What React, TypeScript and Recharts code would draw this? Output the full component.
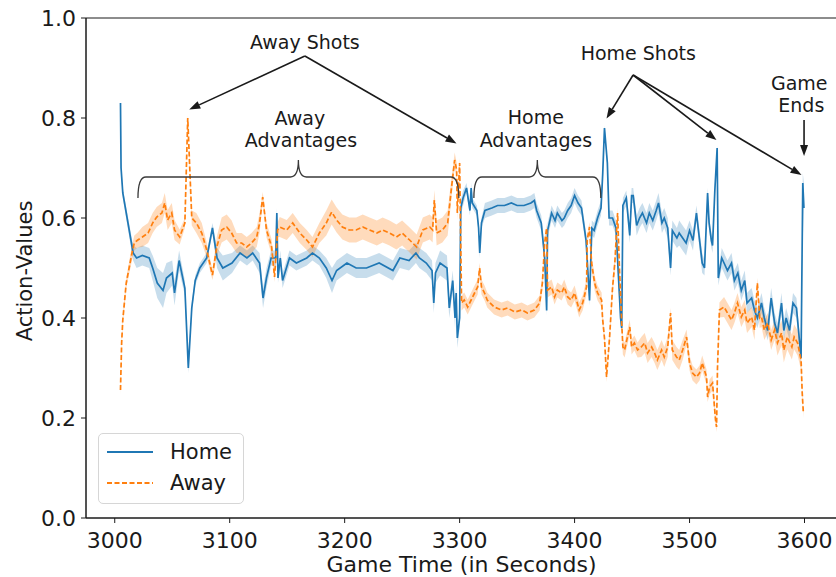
import React from 'react';
import {
  ComposedChart,
  Line,
  Area,
  XAxis,
  YAxis,
  ReferenceLine,
  ReferenceDot,
  ReferenceArea,
  Legend,
} from 'recharts';

const FONT = '"DejaVu Sans", Verdana, sans-serif';
const HOME_COLOR = '#1f77b4';
const AWAY_COLOR = '#ff7f0e';
const INK = '#1a1a1a';

const xDomain = [2975, 3630];
const yDomain = [0, 1];
const xTicks = [3000, 3100, 3200, 3300, 3400, 3500, 3600];
const yTicks = [0, 0.2, 0.4, 0.6, 0.8, 1.0];
const seriesNames = ['Home', 'Away'];

// [game time (s), action-value, half-width of the confidence band]
type Sample = [number, number, number];

const homeSeries: Sample[] = [
  [3005, 0.83, 0.0], [3005.5, 0.70, 0.01], [3007, 0.65, 0.01], [3016, 0.53, 0.015],
  [3019, 0.52, 0.02], [3024, 0.525, 0.02], [3030, 0.52, 0.02], [3033, 0.50, 0.025],
  [3037, 0.47, 0.03], [3042, 0.455, 0.035], [3045, 0.48, 0.03], [3050, 0.49, 0.025],
  [3052, 0.45, 0.025], [3056, 0.515, 0.02], [3061, 0.46, 0.015], [3064, 0.30, 0.01],
  [3067, 0.42, 0.01], [3070, 0.475, 0.01], [3074, 0.50, 0.01], [3080, 0.52, 0.01],
  [3085, 0.58, 0.01], [3089, 0.52, 0.02], [3094, 0.50, 0.025], [3102, 0.51, 0.02],
  [3109, 0.53, 0.015], [3115, 0.52, 0.015], [3120, 0.53, 0.015], [3126, 0.51, 0.02],
  [3129, 0.44, 0.02], [3132, 0.48, 0.02], [3136, 0.52, 0.015], [3140, 0.52, 0.015],
  [3141, 0.61, 0.01], [3142, 0.48, 0.01], [3144, 0.52, 0.015], [3146, 0.475, 0.015],
  [3152, 0.52, 0.015], [3158, 0.51, 0.015], [3167, 0.52, 0.015], [3172, 0.53, 0.015],
  [3178, 0.52, 0.015], [3184, 0.50, 0.02], [3189, 0.475, 0.025], [3193, 0.495, 0.02],
  [3202, 0.51, 0.02], [3210, 0.50, 0.02], [3219, 0.50, 0.02], [3230, 0.51, 0.02],
  [3242, 0.495, 0.02], [3248, 0.52, 0.02], [3256, 0.515, 0.02], [3262, 0.53, 0.02],
  [3265, 0.52, 0.02], [3271, 0.51, 0.02], [3276, 0.495, 0.02], [3277.5, 0.43, 0.02],
  [3279, 0.49, 0.02], [3283, 0.51, 0.025], [3289, 0.50, 0.025], [3291, 0.42, 0.02],
  [3294, 0.475, 0.02], [3296, 0.40, 0.02], [3297, 0.45, 0.02], [3298, 0.36, 0.02],
  [3300, 0.40, 0.02], [3301, 0.62, 0.015], [3303, 0.64, 0.015], [3306, 0.66, 0.01],
  [3309, 0.615, 0.01], [3310, 0.66, 0.01], [3311, 0.63, 0.01], [3315, 0.615, 0.01],
  [3316.5, 0.58, 0.01], [3317.5, 0.53, 0.01], [3319, 0.59, 0.01], [3322, 0.615, 0.015],
  [3328, 0.62, 0.015], [3333, 0.625, 0.015], [3339, 0.625, 0.015], [3345, 0.63, 0.015],
  [3350, 0.625, 0.015], [3356, 0.625, 0.015], [3362, 0.63, 0.015], [3365, 0.635, 0.015],
  [3367, 0.615, 0.015], [3371, 0.59, 0.015], [3374, 0.52, 0.015], [3375.7, 0.415, 0.01],
  [3376.5, 0.575, 0.015], [3380, 0.61, 0.015], [3383, 0.595, 0.015], [3385, 0.61, 0.015],
  [3389, 0.595, 0.015], [3391, 0.60, 0.015], [3394, 0.615, 0.015], [3397, 0.625, 0.015],
  [3400, 0.645, 0.015], [3403, 0.63, 0.015], [3406, 0.62, 0.015], [3410, 0.555, 0.015],
  [3413, 0.435, 0.01], [3415, 0.58, 0.015], [3417, 0.575, 0.015], [3420, 0.60, 0.015],
  [3423, 0.62, 0.015], [3424.5, 0.69, 0.01], [3426, 0.78, 0.005], [3428.5, 0.71, 0.01],
  [3430, 0.60, 0.015], [3433, 0.60, 0.015], [3436, 0.58, 0.015], [3438, 0.49, 0.015],
  [3440, 0.40, 0.015], [3441, 0.38, 0.01], [3442, 0.625, 0.015], [3445, 0.64, 0.015],
  [3448, 0.565, 0.015], [3449.6, 0.645, 0.015], [3451, 0.645, 0.015], [3454, 0.585, 0.02],
  [3456.5, 0.60, 0.02], [3459, 0.61, 0.02], [3462.6, 0.59, 0.02], [3465, 0.61, 0.02],
  [3468, 0.595, 0.02], [3471, 0.615, 0.02], [3473, 0.63, 0.02], [3476, 0.59, 0.02],
  [3478, 0.60, 0.02], [3481, 0.58, 0.02], [3483.5, 0.50, 0.015], [3485, 0.575, 0.02],
  [3489, 0.56, 0.02], [3491, 0.57, 0.025], [3494, 0.56, 0.025], [3497, 0.55, 0.025],
  [3500, 0.575, 0.02], [3503, 0.555, 0.02], [3506, 0.61, 0.015], [3509, 0.55, 0.02],
  [3511, 0.51, 0.02], [3513, 0.50, 0.015], [3515.7, 0.65, 0.01], [3517, 0.59, 0.015],
  [3519, 0.555, 0.015], [3520, 0.545, 0.015], [3522, 0.655, 0.01], [3524, 0.74, 0.005],
  [3525, 0.48, 0.015], [3528, 0.52, 0.02], [3530, 0.51, 0.02], [3533, 0.495, 0.02],
  [3536.5, 0.51, 0.02], [3539, 0.475, 0.02], [3542, 0.49, 0.02], [3545, 0.455, 0.02],
  [3548, 0.475, 0.02], [3550, 0.43, 0.02], [3554, 0.44, 0.02], [3556.5, 0.415, 0.02],
  [3559, 0.40, 0.02], [3562.6, 0.43, 0.02], [3565, 0.40, 0.02], [3568, 0.375, 0.02],
  [3571, 0.44, 0.02], [3574, 0.39, 0.02], [3576.5, 0.37, 0.02], [3580, 0.43, 0.02],
  [3582, 0.375, 0.02], [3584, 0.40, 0.02], [3587, 0.375, 0.02], [3590, 0.43, 0.02],
  [3593, 0.42, 0.02], [3597, 0.32, 0.015], [3598.5, 0.67, 0.02], [3599.5, 0.62, 0.05],
];

const awaySeries: Sample[] = [
  [3005, 0.256, 0.01], [3006, 0.35, 0.01], [3007, 0.396, 0.01], [3010, 0.47, 0.01],
  [3015, 0.53, 0.015], [3017, 0.55, 0.015], [3020, 0.556, 0.015], [3024, 0.562, 0.02],
  [3029, 0.57, 0.02], [3033, 0.59, 0.02], [3036.5, 0.602, 0.02], [3041, 0.61, 0.02],
  [3043.5, 0.63, 0.02], [3046, 0.596, 0.02], [3049.6, 0.61, 0.02], [3052, 0.576, 0.02],
  [3056.5, 0.562, 0.015], [3061, 0.59, 0.01], [3063.5, 0.80, 0.005], [3067, 0.60, 0.015],
  [3071, 0.59, 0.02], [3075.7, 0.57, 0.02], [3080, 0.536, 0.015], [3085, 0.486, 0.01],
  [3088.7, 0.542, 0.02], [3093, 0.576, 0.025], [3097.4, 0.582, 0.025], [3101.7, 0.57, 0.025],
  [3106, 0.55, 0.02], [3110.4, 0.55, 0.02], [3114.8, 0.542, 0.02], [3119, 0.55, 0.02],
  [3123.5, 0.562, 0.02], [3126, 0.59, 0.02], [3128.7, 0.642, 0.01], [3132, 0.576, 0.015],
  [3136.5, 0.542, 0.015], [3139, 0.482, 0.01], [3141.7, 0.576, 0.015], [3143.5, 0.582, 0.02],
  [3149.6, 0.576, 0.02], [3154.8, 0.59, 0.02], [3161, 0.57, 0.02], [3167, 0.556, 0.02],
  [3172, 0.542, 0.02], [3178, 0.57, 0.02], [3184, 0.59, 0.025], [3188.7, 0.612, 0.025],
  [3193, 0.596, 0.025], [3198, 0.582, 0.025], [3204, 0.576, 0.025], [3210, 0.576, 0.025],
  [3215.7, 0.582, 0.025], [3221.7, 0.576, 0.025], [3228, 0.57, 0.025], [3233, 0.576, 0.025],
  [3239, 0.57, 0.025], [3245, 0.562, 0.025], [3250, 0.57, 0.025], [3256.5, 0.556, 0.025],
  [3262.6, 0.542, 0.025], [3268, 0.576, 0.025], [3274, 0.582, 0.025], [3276.5, 0.576, 0.025],
  [3278, 0.636, 0.02], [3280, 0.57, 0.025], [3285, 0.576, 0.025], [3289.6, 0.59, 0.025],
  [3293, 0.662, 0.02], [3295.7, 0.716, 0.015], [3297.4, 0.696, 0.015], [3298, 0.61, 0.015],
  [3300, 0.71, 0.01], [3301.7, 0.43, 0.015], [3304, 0.436, 0.015], [3307, 0.422, 0.015],
  [3310, 0.436, 0.015], [3313, 0.45, 0.015], [3315.7, 0.462, 0.015], [3317.4, 0.50, 0.01],
  [3319, 0.462, 0.015], [3321.7, 0.45, 0.015], [3324, 0.436, 0.015], [3330, 0.422, 0.015],
  [3336.5, 0.416, 0.015], [3341.7, 0.42, 0.015], [3348, 0.412, 0.015], [3354, 0.416, 0.015],
  [3359, 0.41, 0.015], [3365, 0.416, 0.015], [3369.6, 0.43, 0.015], [3372, 0.47, 0.015],
  [3374, 0.55, 0.01], [3375.7, 0.58, 0.01], [3376.5, 0.456, 0.015], [3380, 0.462, 0.015],
  [3382.6, 0.442, 0.015], [3385, 0.456, 0.015], [3388.7, 0.45, 0.015], [3391, 0.462, 0.015],
  [3394, 0.442, 0.015], [3397, 0.436, 0.015], [3400, 0.45, 0.015], [3404, 0.416, 0.015],
  [3407, 0.43, 0.015], [3410.4, 0.462, 0.015], [3411, 0.556, 0.01], [3413, 0.582, 0.01],
  [3414.8, 0.51, 0.015], [3417.4, 0.47, 0.015], [3420, 0.45, 0.015], [3423.5, 0.436, 0.015],
  [3424.3, 0.40, 0.015], [3426, 0.36, 0.01], [3427.8, 0.282, 0.01], [3430.4, 0.36, 0.01],
  [3433, 0.46, 0.015], [3435, 0.51, 0.015], [3437.4, 0.61, 0.01], [3439, 0.50, 0.015],
  [3441, 0.39, 0.015], [3442, 0.342, 0.015], [3443.5, 0.336, 0.015], [3446, 0.362, 0.015],
  [3448, 0.382, 0.015], [3449.6, 0.342, 0.015], [3452, 0.35, 0.015], [3454.8, 0.336, 0.015],
  [3458, 0.342, 0.02], [3461, 0.35, 0.02], [3463.5, 0.33, 0.02], [3467, 0.342, 0.02],
  [3469.6, 0.33, 0.02], [3472, 0.316, 0.02], [3475.7, 0.336, 0.02], [3478, 0.322, 0.02],
  [3481, 0.342, 0.02], [3483.5, 0.41, 0.01], [3485, 0.336, 0.02], [3488.7, 0.322, 0.02],
  [3491, 0.316, 0.02], [3494, 0.336, 0.02], [3497.4, 0.362, 0.015], [3500, 0.31, 0.015],
  [3502.6, 0.29, 0.015], [3506, 0.282, 0.015], [3508.7, 0.29, 0.015], [3511, 0.31, 0.015],
  [3514.8, 0.282, 0.015], [3515.7, 0.242, 0.01], [3517.4, 0.262, 0.015], [3520, 0.27, 0.015],
  [3522.6, 0.196, 0.01], [3523.5, 0.182, 0.01], [3524.3, 0.30, 0.01], [3526, 0.416, 0.015],
  [3530, 0.422, 0.02], [3533, 0.41, 0.02], [3536.5, 0.396, 0.02], [3539, 0.41, 0.02],
  [3541.7, 0.43, 0.02], [3545, 0.402, 0.02], [3548, 0.416, 0.02], [3550, 0.39, 0.02],
  [3554, 0.402, 0.02], [3556.5, 0.376, 0.02], [3559, 0.47, 0.01], [3561, 0.40, 0.02],
  [3562.6, 0.402, 0.02], [3565, 0.376, 0.02], [3568, 0.39, 0.02], [3571, 0.356, 0.02],
  [3574, 0.376, 0.02], [3576.5, 0.35, 0.025], [3580, 0.37, 0.025], [3582, 0.336, 0.025],
  [3585, 0.362, 0.025], [3589, 0.342, 0.025], [3591, 0.362, 0.025], [3594, 0.35, 0.025],
  [3597, 0.316, 0.02], [3598, 0.25, 0.01], [3599, 0.21, 0.01],
];

// annotation text, placed in data units
const noteTexts = [
  { t: 3165.4, v: 0.952, text: 'Away Shots' },
  { t: 3161, v: 0.8, text: 'Away' },
  { t: 3162, v: 0.756, text: 'Advantages' },
  { t: 3366.3, v: 0.802, text: 'Home' },
  { t: 3366.3, v: 0.756, text: 'Advantages' },
  { t: 3455.4, v: 0.93, text: 'Home Shots' },
  { t: 3595.4, v: 0.87, text: 'Game' },
  { t: 3597.2, v: 0.826, text: 'Ends' },
];

// arrows: [from time, from value, to time, to value]
const noteArrows: [number, number, number, number][] = [
  [3165.4, 0.924, 3064.8, 0.817],
  [3165.4, 0.924, 3297.3, 0.749],
  [3450.9, 0.886, 3427.8, 0.799],
  [3450.9, 0.886, 3523.4, 0.756],
  [3450.9, 0.886, 3597.4, 0.686],
  [3599.6, 0.796, 3599.6, 0.724],
];

// braces spanning the advantage periods: [start time, end time, level]
const noteBraces: [number, number, number][] = [
  [3020.2, 3299.3, 0.682],
  [3312.4, 3422.8, 0.682],
];

const toRows = (series: Sample[]) =>
  series.map(([t, v, s]) => ({ t, v, band: [v - s, v + s] }));

const homeRows = toRows(homeSeries);
const awayRows = toRows(awaySeries);

const ArrowShape = (p: any) => {
  const { x1, y1, x2, y2 } = p;
  const ang = Math.atan2(y2 - y1, x2 - x1);
  const len = 11;
  const half = 4;
  const bx = x2 - len * Math.cos(ang);
  const by = y2 - len * Math.sin(ang);
  const nx = -Math.sin(ang) * half;
  const ny = Math.cos(ang) * half;
  return (
    <g>
      <line x1={x1} y1={y1} x2={bx} y2={by} stroke={INK} strokeWidth={1.6} />
      <polygon
        points={`${x2},${y2} ${bx + nx},${by + ny} ${bx - nx},${by - ny}`}
        fill={INK}
      />
    </g>
  );
};

const BraceShape = (p: any) => {
  const { x1, y1, x2 } = p;
  const y = y1;
  const xm = (x1 + x2) / 2;
  const hook = 21;
  const tip = 17;
  const r = 8;
  const d = [
    `M ${x1} ${y + hook}`,
    `Q ${x1} ${y} ${x1 + r} ${y}`,
    `L ${xm - r} ${y}`,
    `Q ${xm} ${y} ${xm} ${y - tip}`,
    `Q ${xm} ${y} ${xm + r} ${y}`,
    `L ${x2 - r} ${y}`,
    `Q ${x2} ${y} ${x2} ${y + hook}`,
  ].join(' ');
  return <path d={d} fill="none" stroke="#3a3a3a" strokeWidth={1.3} />;
};

const makeNoteText = (text: string) => (p: any) => (
  <text
    x={p.cx}
    y={p.cy}
    textAnchor="middle"
    dominantBaseline="central"
    fontSize={19}
    fontFamily={FONT}
    fill={INK}
  >
    {text}
  </text>
);

const dashFor: Record<string, string | undefined> = { Home: undefined, Away: '5 2.5' };

const LegendBox = (props: any) => {
  const payload = props.payload || [];
  const items = seriesNames
    .map((name) => payload.find((e: any) => e.value === name))
    .filter(Boolean);
  return (
    <div
      style={{
        width: 146,
        height: 71,
        boxSizing: 'border-box',
        border: '1px solid #d6d6d6',
        borderRadius: 5,
        background: 'rgba(255,255,255,0.85)',
        position: 'relative',
        fontFamily: FONT,
        fontSize: 21,
        color: INK,
      }}
    >
      {items.map((e: any, i: number) => (
        <div
          key={e.value}
          style={{ position: 'absolute', left: 0, top: 5 + i * 31, height: 26, display: 'flex', alignItems: 'center' }}
        >
          <svg width={64} height={26} style={{ display: 'block' }}>
            <line
              x1={8}
              x2={54}
              y1={13}
              y2={13}
              stroke={e.color}
              strokeWidth={1.8}
              strokeDasharray={dashFor[e.value]}
            />
          </svg>
          <span style={{ marginLeft: 7, lineHeight: '26px' }}>{e.value}</span>
        </div>
      ))}
    </div>
  );
};

const YTitle = (p: any) => {
  const vb = p.viewBox || { x: 0, y: 18, width: 86, height: 500 };
  const cx = vb.x + 32;
  const cy = vb.y + vb.height / 2 + 3;
  return (
    <text
      transform={`translate(${cx},${cy}) rotate(-90)`}
      textAnchor="middle"
      fontSize={21}
      fontFamily={FONT}
      fill={INK}
    >
      Action-Values
    </text>
  );
};

const XTitle = (p: any) => {
  const vb = p.viewBox || { x: 86, y: 518, width: 753, height: 59 };
  return (
    <text
      x={vb.x + vb.width / 2 - 1}
      y={vb.y + 54}
      textAnchor="middle"
      fontSize={22}
      fontFamily={FONT}
      fill={INK}
    >
      Game Time (in Seconds)
    </text>
  );
};

export default function App() {
  return (
    <div style={{ position: 'absolute', left: 0, top: 0, width: 836, height: 577, overflow: 'hidden', background: '#fff' }}>
      <ComposedChart width={850} height={577} margin={{ top: 18, right: 11, bottom: 0, left: 0 }}>
        <XAxis
          type="number"
          dataKey="t"
          domain={xDomain}
          ticks={xTicks}
          allowDataOverflow
          height={59}
          tickSize={5}
          tickMargin={9}
          stroke={INK}
          tick={{ fill: INK, fontSize: 22, fontFamily: FONT }}
          label={{ content: XTitle }}
        />
        <YAxis
          type="number"
          domain={yDomain}
          ticks={yTicks}
          width={86}
          tickSize={5}
          tickMargin={5}
          stroke={INK}
          tickFormatter={(v: number) => v.toFixed(1)}
          tick={{ fill: INK, fontSize: 22, fontFamily: FONT }}
          label={{ content: YTitle }}
        />

        {/* plot frame */}
        <ReferenceArea
          x1={xDomain[0]}
          x2={xDomain[1]}
          y1={yDomain[0]}
          y2={yDomain[1]}
          fill="none"
          fillOpacity={0}
          stroke={INK}
          strokeWidth={1}
          strokeOpacity={1}
          ifOverflow="visible"
        />

        <Area
          data={homeRows}
          dataKey="band"
          type="linear"
          stroke="none"
          fill={HOME_COLOR}
          fillOpacity={0.25}
          legendType="none"
          isAnimationActive={false}
        />
        <Area
          data={awayRows}
          dataKey="band"
          type="linear"
          stroke="none"
          fill={AWAY_COLOR}
          fillOpacity={0.28}
          legendType="none"
          isAnimationActive={false}
        />
        <Line
          data={homeRows}
          dataKey="v"
          name="Home"
          type="linear"
          stroke={HOME_COLOR}
          strokeWidth={1.7}
          dot={false}
          isAnimationActive={false}
        />
        <Line
          data={awayRows}
          dataKey="v"
          name="Away"
          type="linear"
          stroke={AWAY_COLOR}
          strokeWidth={1.7}
          strokeDasharray="5 2.5"
          dot={false}
          isAnimationActive={false}
        />

        {noteBraces.map(([a, b, v], i) => (
          <ReferenceLine
            key={`brace-${i}`}
            segment={[{ x: a, y: v }, { x: b, y: v }]}
            shape={BraceShape}
            ifOverflow="visible"
          />
        ))}
        {noteArrows.map(([t0, v0, t1, v1], i) => (
          <ReferenceLine
            key={`arrow-${i}`}
            segment={[{ x: t0, y: v0 }, { x: t1, y: v1 }]}
            shape={ArrowShape}
            ifOverflow="visible"
          />
        ))}
        {noteTexts.map((n, i) => (
          <ReferenceDot
            key={`note-${i}`}
            x={n.t}
            y={n.v}
            r={0}
            shape={makeNoteText(n.text)}
            ifOverflow="visible"
          />
        ))}

        <Legend
          layout="vertical"
          align="center"
          verticalAlign="middle"
          width={146}
          content={LegendBox}
          wrapperStyle={{ left: 98, top: 433, width: 146, height: 71 }}
        />
      </ComposedChart>
    </div>
  );
}
